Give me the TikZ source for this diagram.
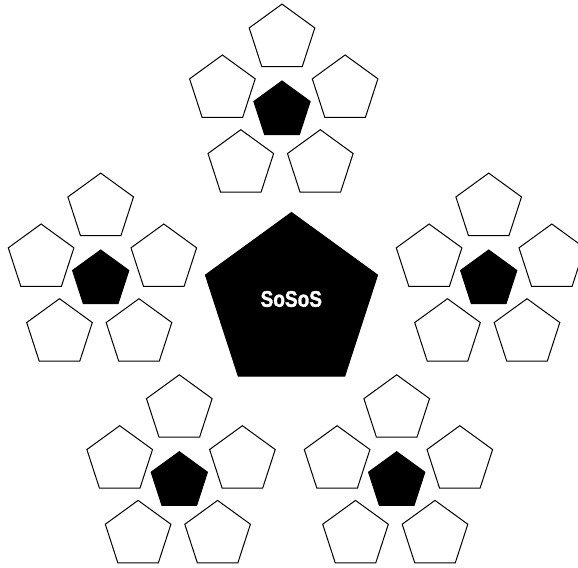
\documentclass[tikz,border=0pt]{standalone}
\usepackage{fontspec}
\newfontfamily\labelfont[BoldFeatures={FakeBold=1.6}]{Liberation Sans}
\usetikzlibrary{shapes.geometric}
\tikzset{
  pent/.style={regular polygon, regular polygon sides=5, inner sep=0pt, outer sep=0pt, line width=1bp, line join=miter},
  whitepent/.style={pent, draw=black, fill=white, minimum size=69bp},
  blackpent/.style={pent, draw=black, fill=black, minimum size=59.2bp},
  hubpent/.style={pent, draw=black, fill=black, minimum size=181bp},
  hublabel/.style={text=white, font=\labelfont\bfseries\fontsize{22.5}{22.5}\selectfont, xscale=0.85, inner sep=0pt}
}
\newcommand\sosCluster[3]{%
  \node[blackpent] (#1c) at (#2,#3) {};
  \node[whitepent] (#1t)  at (#2,#3-72) {};
  \node[whitepent] (#1ul) at (#2-59.6,#3-21.1) {};
  \node[whitepent] (#1ur) at (#2+63.1,#3-21.1) {};
  \node[whitepent] (#1ll) at (#2-41.2,#3+53.6) {};
  \node[whitepent] (#1lr) at (#2+38.3,#3+53.6) {};
}
\begin{document}
\begin{tikzpicture}[x=1bp,y=-1bp]
  \useasboundingbox (0,0) rectangle (578,568);
  \clip (0,0) rectangle (578,568);
  \node[hubpent] (hub) at (291.5,303) {};
  \node[hublabel] (hubtext) at (291.3,299) {SoSoS};
  \sosCluster{top}{282}{110.6}
  \sosCluster{left}{100.7}{279.6}
  \sosCluster{right}{488.7}{279.6}
  \sosCluster{bl}{179.3}{481.3}
  \sosCluster{br}{396.7}{481.3}
\end{tikzpicture}
\end{document}
